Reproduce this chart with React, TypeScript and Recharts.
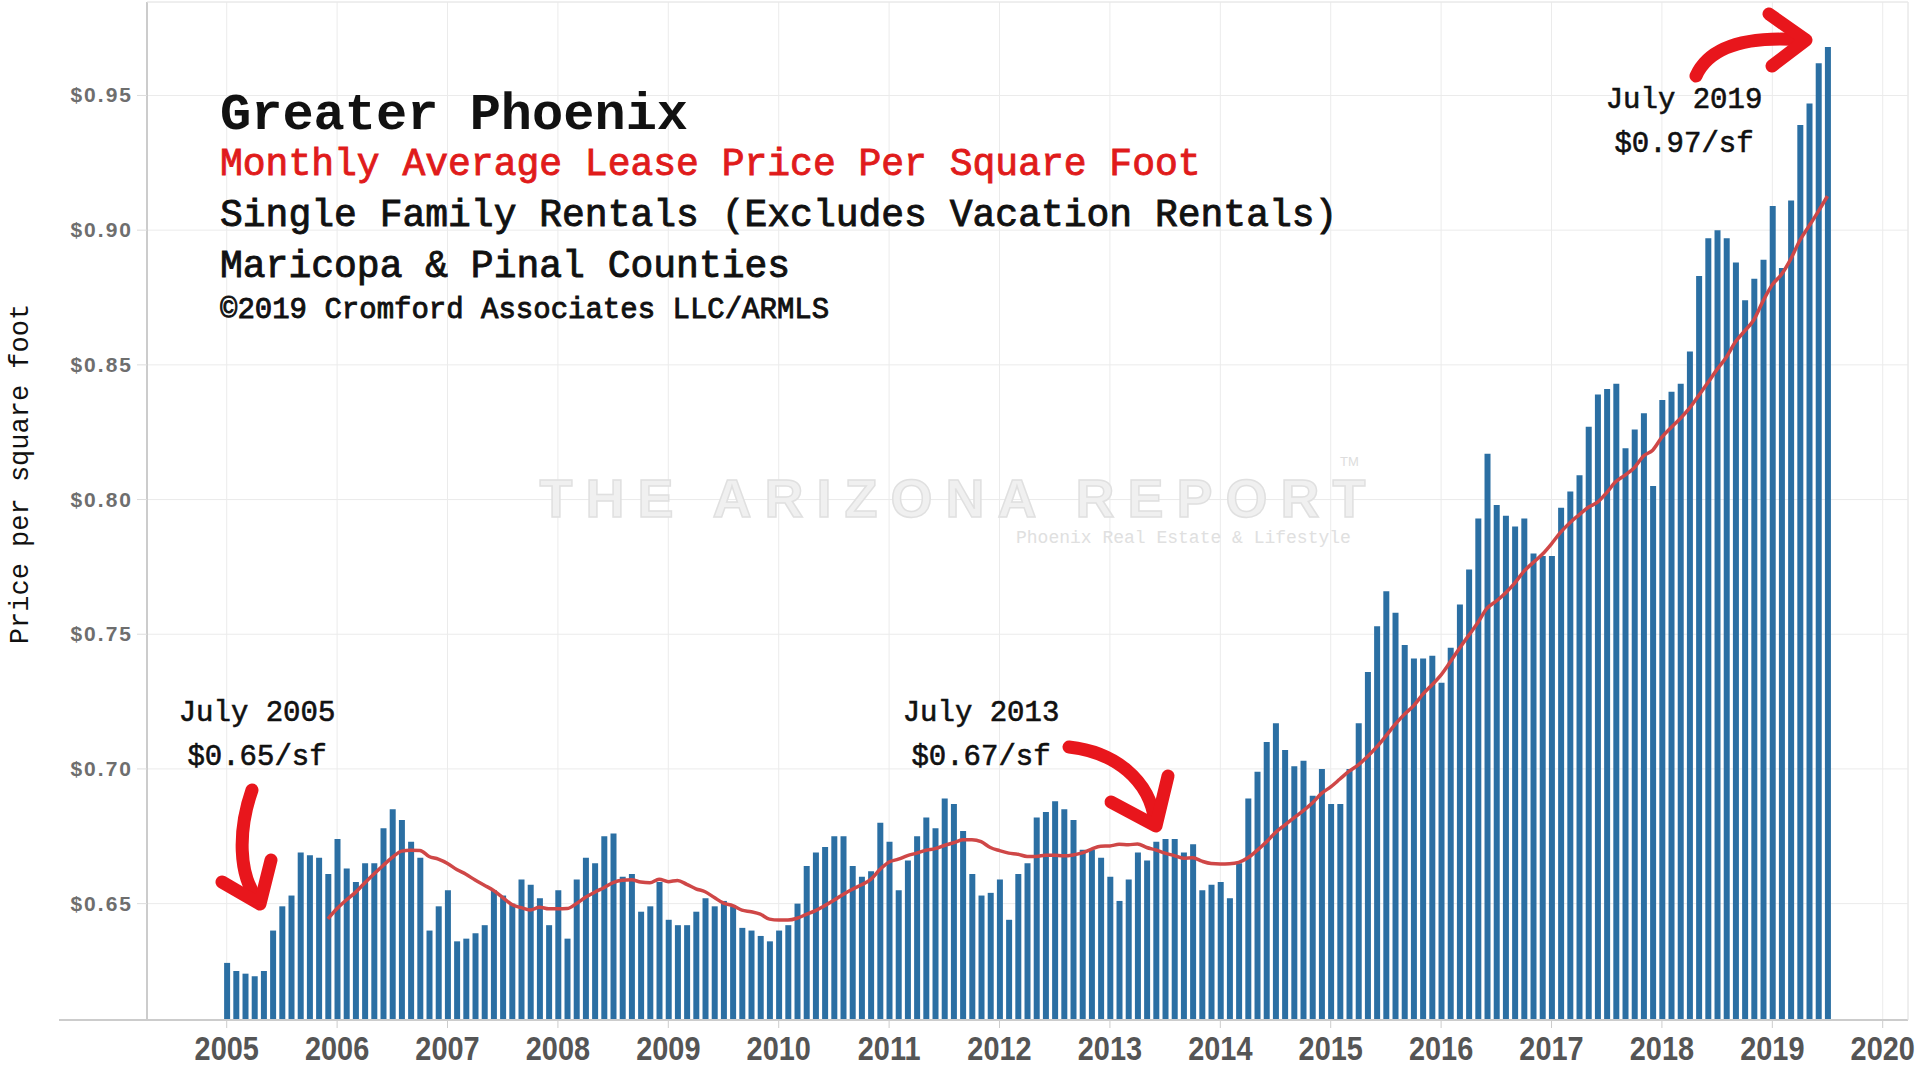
import React from 'react'
import { Bar, CartesianGrid, ComposedChart, Line, XAxis, YAxis } from 'recharts'

// monthly average lease price per sq ft, Jan..Dec (2019 through July)
const firstYear = 2005
const price2005 = [0.628, 0.625, 0.624, 0.623, 0.625, 0.640, 0.649, 0.653, 0.669, 0.668, 0.667, 0.661]
const price2006 = [0.674, 0.663, 0.658, 0.665, 0.665, 0.678, 0.685, 0.681, 0.673, 0.667, 0.640, 0.649]
const price2007 = [0.655, 0.636, 0.637, 0.639, 0.642, 0.655, 0.653, 0.650, 0.659, 0.657, 0.652, 0.642]
const price2008 = [0.655, 0.637, 0.659, 0.667, 0.665, 0.675, 0.676, 0.660, 0.661, 0.647, 0.649, 0.658]
const price2009 = [0.644, 0.642, 0.642, 0.647, 0.652, 0.649, 0.651, 0.649, 0.641, 0.640, 0.638, 0.636]
const price2010 = [0.640, 0.642, 0.650, 0.664, 0.669, 0.671, 0.675, 0.675, 0.664, 0.660, 0.662, 0.680]
const price2011 = [0.673, 0.655, 0.666, 0.675, 0.682, 0.678, 0.689, 0.687, 0.677, 0.661, 0.653, 0.654]
const price2012 = [0.659, 0.644, 0.661, 0.665, 0.682, 0.684, 0.688, 0.685, 0.681, 0.670, 0.670, 0.667]
const price2013 = [0.660, 0.651, 0.659, 0.669, 0.666, 0.673, 0.674, 0.674, 0.669, 0.672, 0.655, 0.657]
const price2014 = [0.658, 0.652, 0.665, 0.689, 0.699, 0.710, 0.717, 0.707, 0.701, 0.703, 0.690, 0.700]
const price2015 = [0.687, 0.687, 0.700, 0.717, 0.736, 0.753, 0.766, 0.758, 0.746, 0.741, 0.741, 0.742]
const price2016 = [0.732, 0.745, 0.761, 0.774, 0.793, 0.817, 0.798, 0.794, 0.790, 0.793, 0.780, 0.779]
const price2017 = [0.779, 0.797, 0.803, 0.809, 0.827, 0.839, 0.841, 0.843, 0.819, 0.826, 0.832, 0.805]
const price2018 = [0.837, 0.840, 0.843, 0.855, 0.883, 0.897, 0.900, 0.897, 0.888, 0.874, 0.882, 0.889]
const price2019 = [0.909, 0.886, 0.911, 0.939, 0.947, 0.962, 0.968]

const pricesByYear = [
  price2005, price2006, price2007, price2008, price2009, price2010, price2011, price2012,
  price2013, price2014, price2015, price2016, price2017, price2018, price2019,
]

const yearTicks = [2005, 2006, 2007, 2008, 2009, 2010, 2011, 2012, 2013, 2014, 2015, 2016, 2017, 2018, 2019, 2020]
const priceTicks = [0.65, 0.7, 0.75, 0.8, 0.85, 0.9, 0.95]

const monthly = pricesByYear.flat()
// the red line is the trailing 12-month average of the bars
const data = monthly.map((price, i) => ({
  t: firstYear + i / 12,
  price,
  avg: i >= 11 ? monthly.slice(i - 11, i + 1).reduce((a, b) => a + b, 0) / 12 : null,
}))

const typewriter = '"Liberation Mono", "Courier New", monospace'
const sans = '"Liberation Sans", Arial, sans-serif'

function YearTick(props: any) {
  const { x, y, payload } = props
  return (
    <g transform={`translate(${x},${y})`}>
      <text
        transform="scale(0.85,1)"
        y={30}
        textAnchor="middle"
        fontFamily={sans}
        fontWeight="bold"
        fontSize={34}
        fill="#555"
      >
        {payload.value}
      </text>
    </g>
  )
}

function PriceTick(props: any) {
  const { x, y, payload } = props
  return (
    <text
      x={x}
      y={y + 7}
      textAnchor="end"
      fontFamily={sans}
      fontWeight="bold"
      fontSize={21}
      letterSpacing={2}
      fill="#6e6e6e"
    >
      {`$${payload.value.toFixed(2)}`}
    </text>
  )
}

function Overlay() {
  const red = '#e8161c'
  return (
    <svg
      width={1920}
      height={1080}
      style={{ position: 'absolute', left: 0, top: 0, pointerEvents: 'none' }}
    >
      {/* plot frame bits */}
      <line x1={59} y1={1020} x2={147} y2={1020} stroke="#ccc" strokeWidth={2} />
      <line x1={147} y1={2} x2={1908} y2={2} stroke="#e8e8e8" />
      <line x1={1908} y1={2} x2={1908} y2={1020} stroke="#e8e8e8" />

      {/* watermark */}
      <text x={959} y={517} textAnchor="middle" fontFamily={sans} fontWeight="bold" fontSize={54}
        letterSpacing={13} fill="#f0f0f0" stroke="#e0e0e0" strokeWidth={1.5}>
        THE ARIZONA REPORT
      </text>
      <text x={1340} y={466} fontFamily={sans} fontSize={13} fill="#ddd">TM</text>
      <text x={1016} y={543} fontFamily={typewriter} fontSize={18} fill="#e0e0e0">
        Phoenix Real Estate &amp; Lifestyle
      </text>

      {/* titles */}
      <g fontFamily={typewriter}>
        <text x={220} y={129} fontSize={52} fontWeight="bold" fill="#111">Greater Phoenix</text>
        <g stroke="currentColor" strokeWidth={0.9}>
          <text x={220} y={175} fontSize={38} fill="#e01b1b" color="#e01b1b">Monthly Average Lease Price Per Square Foot</text>
          <text x={220} y={226} fontSize={38} fill="#111" color="#111">Single Family Rentals (Excludes Vacation Rentals)</text>
          <text x={220} y={277} fontSize={38} fill="#111" color="#111">Maricopa &amp; Pinal Counties</text>
          <text x={220} y={318} fontSize={29} fill="#111" color="#111">©2019 Cromford Associates LLC/ARMLS</text>
        </g>

        <text transform="translate(28,474) rotate(-90)" textAnchor="middle" fontSize={27} fill="#111">
          Price per square foot
        </text>

        <g fontSize={29} fill="#111" stroke="#111" strokeWidth={0.6} textAnchor="middle">
          <text x={257} y={721}>July 2005</text>
          <text x={257} y={765}>$0.65/sf</text>
          <text x={981} y={721}>July 2013</text>
          <text x={981} y={765}>$0.67/sf</text>
          <text x={1684} y={108}>July 2019</text>
          <text x={1684} y={152}>$0.97/sf</text>
        </g>
      </g>

      {/* arrows */}
      <g fill="none" stroke={red} strokeWidth={13} strokeLinecap="round" strokeLinejoin="round">
        <path d="M 252 790 C 238 830, 238 875, 258 900" />
        <path d="M 222 882 L 260 904 L 271 860" />
        <path d="M 1069 747 C 1115 752, 1150 780, 1155 822" />
        <path d="M 1111 802 L 1156 826 L 1168 776" />
        <path d="M 1696 76 C 1710 45, 1750 36, 1803 40" />
        <path d="M 1769 14 L 1806 40 L 1772 66" />
      </g>
    </svg>
  )
}

export default function App() {
  return (
    <div style={{ position: 'absolute', left: 0, top: 0, width: 1920, height: 1080, background: '#fff' }}>
      <ComposedChart
        width={1920}
        height={1080}
        data={data}
        margin={{ top: 2, right: 12, bottom: 0, left: 0 }}
      >
        <CartesianGrid stroke="#ebebeb" />
        <XAxis
          type="number"
          dataKey="t"
          domain={[2004.278, 2020.229]}
          ticks={yearTicks}
          interval={0}
          allowDataOverflow
          height={60}
          tick={<YearTick />}
          tickSize={8}
          tickMargin={2}
          tickLine={{ stroke: '#ccc' }}
          axisLine={{ stroke: '#ccc', strokeWidth: 2 }}
        />
        <YAxis
          type="number"
          domain={[0.6068, 0.9847]}
          ticks={priceTicks}
          allowDataOverflow
          width={147}
          tick={<PriceTick />}
          tickSize={10}
          tickMargin={4}
          tickLine={{ stroke: '#ddd' }}
          axisLine={{ stroke: '#ccc', strokeWidth: 2 }}
        />
        <Bar dataKey="price" fill="#2b6fa3" barSize={6} isAnimationActive={false} />
        <Line
          dataKey="avg"
          type="monotone"
          stroke="#cf4747"
          strokeWidth={3.5}
          dot={false}
          connectNulls={false}
          isAnimationActive={false}
        />
      </ComposedChart>
      <Overlay />
    </div>
  )
}
